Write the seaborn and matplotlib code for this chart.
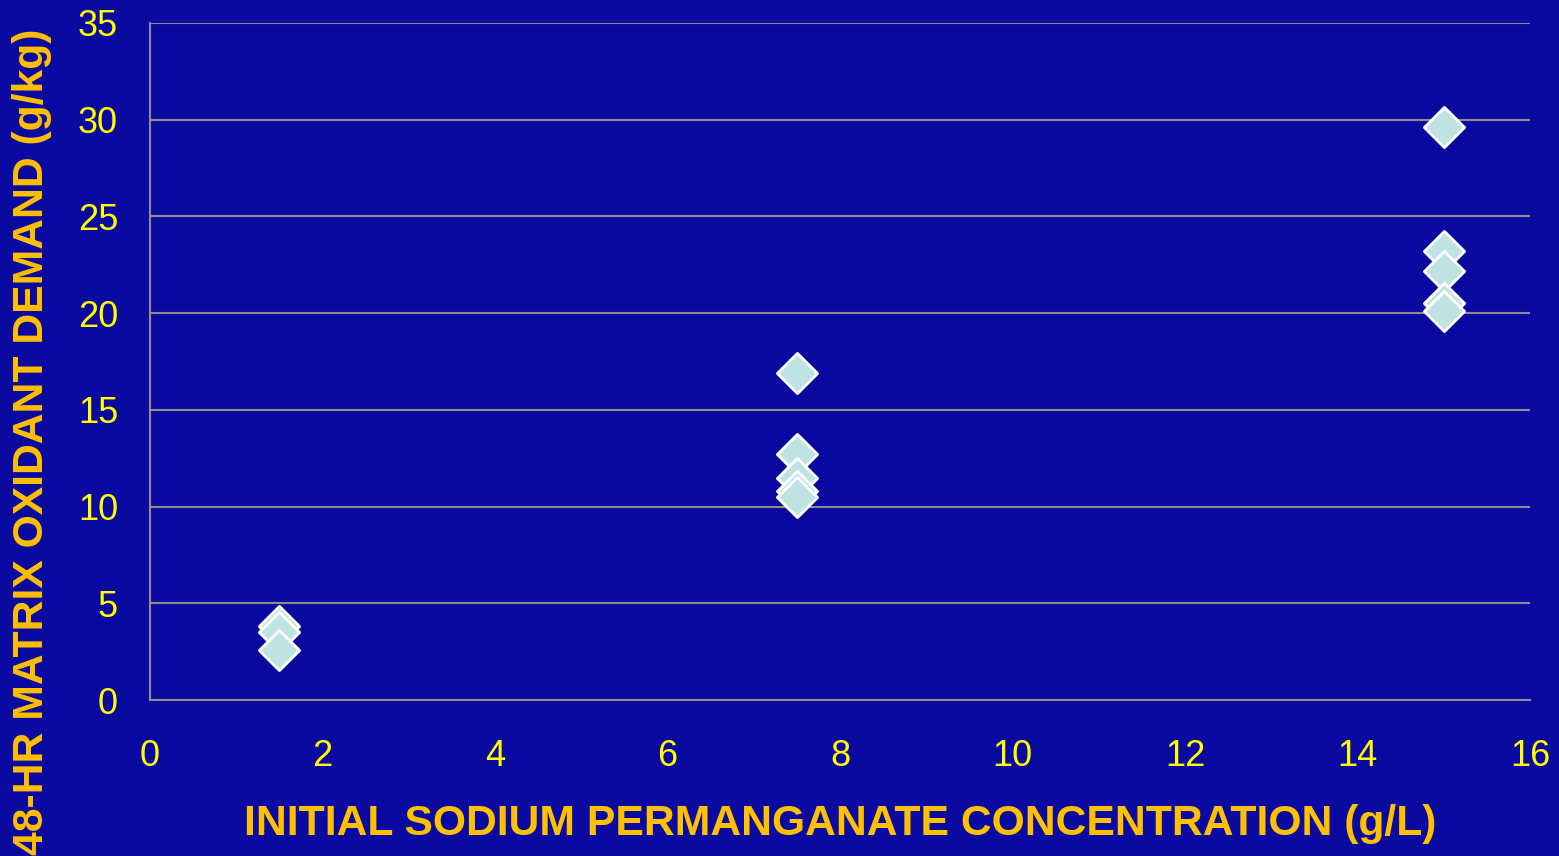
import matplotlib
matplotlib.use("Agg")
import matplotlib.pyplot as plt
import seaborn as sns
import pandas as pd

conc = [1.5, 1.5, 1.5,
        7.5, 7.5, 7.5, 7.5, 7.5,
        15, 15, 15, 15, 15]
demand = [3.8, 3.5, 2.6,
          16.9, 12.7, 11.5, 10.8, 10.5,
          29.6, 23.2, 22.2, 20.5, 20.1]
x_ticks = [0, 2, 4, 6, 8, 10, 12, 14, 16]
y_ticks = [0, 5, 10, 15, 20, 25, 30, 35]
x_title = "INITIAL SODIUM PERMANGANATE CONCENTRATION (g/L)"
y_title = "48-HR MATRIX OXIDANT DEMAND (g/kg)"

df = pd.DataFrame({"conc": conc, "demand": demand})

bg = "#0A0AA0"
sns.set_theme(style="white")
plt.rcParams['font.family'] = ['Liberation Sans', 'DejaVu Sans']

fig = plt.figure(figsize=(15.59, 8.56), dpi=100, facecolor=bg)
ax = fig.add_axes([150/1559, 1-700/856, 1380/1559, 677/856])
ax.set_facecolor(bg)

sns.scatterplot(data=df, x="conc", y="demand", marker="D", s=420,
                color="#BFE3E3", edgecolor="white", linewidth=2, ax=ax, zorder=3)

ax.set_xlim(0, 16)
ax.set_ylim(0, 35)
ax.set_xticks(x_ticks)
ax.set_yticks(y_ticks)
ax.yaxis.grid(True, color="#8C8C8C", linewidth=1.5)
ax.xaxis.grid(False)
for s in ["top", "right"]:
    ax.spines[s].set_visible(False)
for s in ["left", "bottom"]:
    ax.spines[s].set_color("#8C8C8C")
    ax.spines[s].set_linewidth(1.5)
ax.tick_params(axis="both", colors="#8C8C8C", length=8, width=1.5,
               labelcolor="#FFFF00", labelsize=26, direction="out")
ax.tick_params(axis="x", pad=20)
ax.tick_params(axis="y", pad=15)

ax.set_xlabel(x_title, color="#FFC000", fontsize=30.7, fontweight="bold", labelpad=22)
ax.set_ylabel(y_title, color="#FFC000", fontsize=30.7, fontweight="bold")
ax.yaxis.set_label_coords(-98/1380, 0.381)

fig.savefig("out.png", dpi=100, facecolor=bg)
